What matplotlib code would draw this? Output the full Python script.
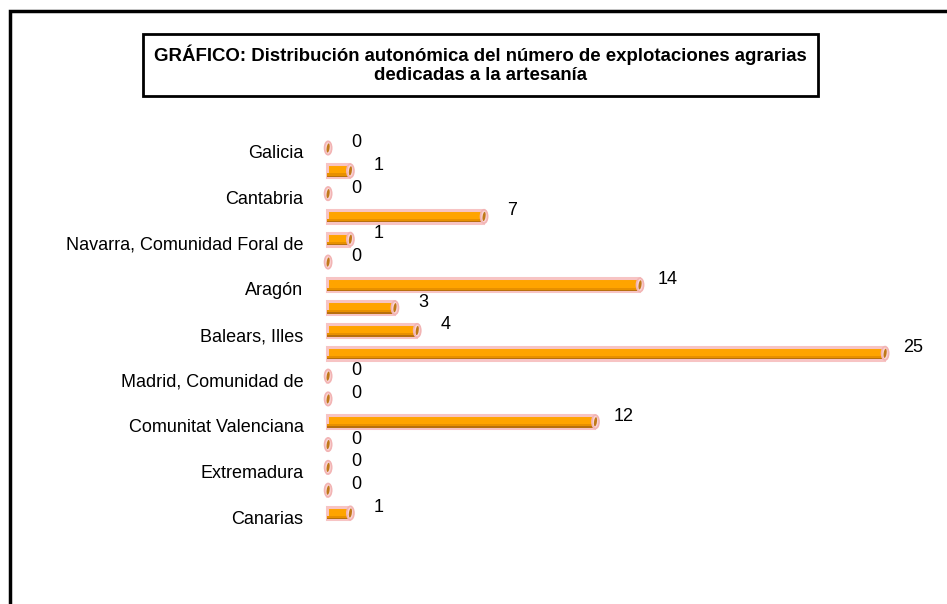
import matplotlib.pyplot as plt
import matplotlib.transforms as mtransforms
from matplotlib.patches import Ellipse, Rectangle

plt.rcParams['font.family'] = ['Liberation Sans', 'DejaVu Sans']

# comunidades autonomas (orden del censo agrario), solo se rotulan las pares
regiones = ['Galicia', 'Asturias, Principado de', 'Cantabria', 'País Vasco',
            'Navarra, Comunidad Foral de', 'Rioja, La', 'Aragón', 'Cataluña',
            'Balears, Illes', 'Castilla y León', 'Madrid, Comunidad de',
            'Castilla - La Mancha', 'Comunitat Valenciana', 'Murcia, Región de',
            'Extremadura', 'Andalucía', 'Canarias']
explotaciones = [0, 1, 0, 7, 1, 0, 14, 3, 4, 25, 0, 0, 12, 0, 0, 0, 1]
titulo = ('GRÁFICO: Distribución autonómica del número de explotaciones agrarias\n'
          'dedicadas a la artesanía')

W, H = 947, 604
fig = plt.figure(figsize=(W / 100, H / 100), dpi=100)

# marco exterior (cortado por la derecha y abajo)
fig.patches.append(Rectangle((9.5 / W, -0.1), 1.2, 1.1 - 11.5 / H, transform=fig.transFigure,
                             fill=False, edgecolor='black', linewidth=2.5))

# caja del titulo
fig.patches.append(Rectangle((143 / W, 1 - 96 / H), (818 - 143) / W, (96 - 34) / H,
                             transform=fig.transFigure, fill=False,
                             edgecolor='black', linewidth=2))
fig.text(480 / W, 1 - 64 / H, titulo, ha='center', va='center', fontsize=13.4,
         fontweight='bold', linespacing=1.15)

# ejes: 0 -> x=327, 25 -> x=884 ; barra 0 en y=148, barra 16 en y=513
step = (513 - 148) / 16
top = 148 - step / 2
bot = 513 + step / 2
ax = fig.add_axes([327 / W, 1 - bot / H, (884 - 327) / W, (bot - top) / H])

n = len(regiones)
pos = list(range(n))
alto = 0.56
naranja = '#FFA400'
rosa = '#F7C4C4'

barras = ax.barh(pos, explotaciones, height=alto, color=naranja, edgecolor=rosa,
                 linewidth=2.2, zorder=2)
# sombreado inferior del cilindro
s1 = ax.barh([p + alto * 0.30 for p in pos], explotaciones, height=alto * 0.18,
             color='#E89000', linewidth=0, zorder=3)
s2 = ax.barh([p + alto * 0.42 for p in pos], explotaciones, height=alto * 0.10,
             color='#B8700E', linewidth=0, zorder=3)
for grupo in (barras, s1, s2):
    for r in grupo:
        r.set_clip_on(False)

# tapa eliptica al final de cada barra
for p, v in zip(pos, explotaciones):
    ax.add_patch(Ellipse((v + 0.05, p), width=0.32, height=alto * 1.05, facecolor='#FAD4D4',
                         edgecolor='#F2B4B4', linewidth=1.2, zorder=4, clip_on=False))
    ax.add_patch(Ellipse((v + 0.05, p), width=0.13, height=alto * 0.72, angle=8,
                         facecolor='#C07818', edgecolor='none', zorder=5, clip_on=False))
    ax.annotate(str(v), xy=(v, p), xytext=(21, 4), textcoords='offset points',
                ha='center', va='center', fontsize=13, annotation_clip=False)

ax.set_xlim(0, 25)
ax.set_ylim(n - 0.5, -0.5)
ax.set_yticks(pos[::2])
ax.set_yticklabels(regiones[::2], fontsize=13)
ax.tick_params(axis='y', length=0, pad=17)
desplaza = mtransforms.ScaledTranslation(0, -4 / 100, fig.dpi_scale_trans)
for lab in ax.get_yticklabels():
    lab.set_transform(lab.get_transform() + desplaza)
ax.set_xticks([])
for s in ax.spines.values():
    s.set_visible(False)
ax.patch.set_alpha(0)

fig.savefig('out.png', dpi=100)
